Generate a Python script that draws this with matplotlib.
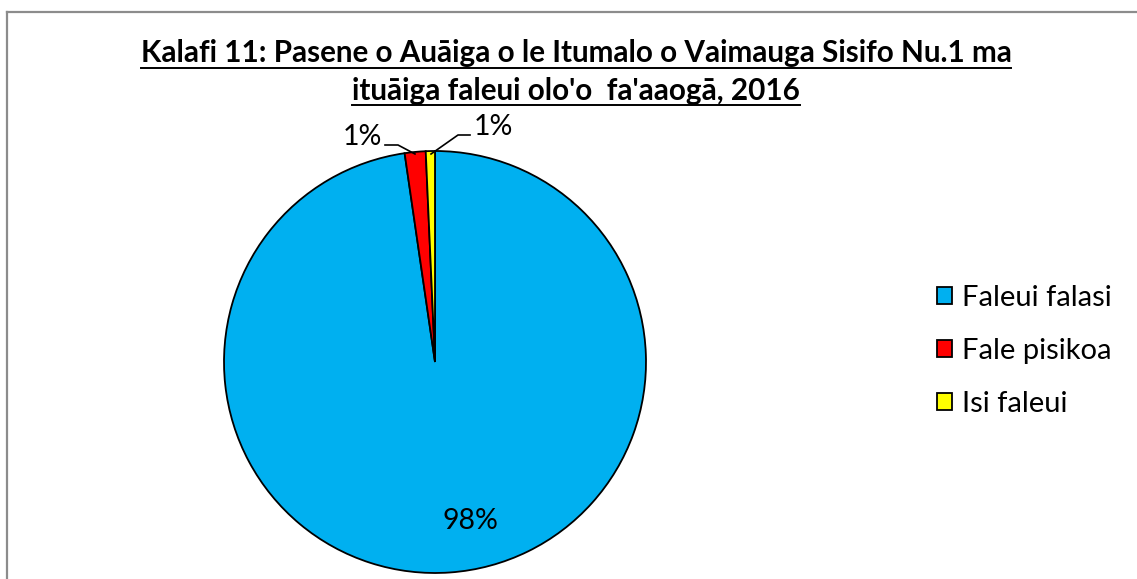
import matplotlib
matplotlib.use("Agg")
import matplotlib.pyplot as plt
from matplotlib.lines import Line2D

categories = ["Faleui falasi", "Fale pisikoa", "Isi faleui"]
values = [97.7, 1.6, 0.7]
pct_labels = ["98%", "1%", "1%"]
colors = ["#00B0F0", "#FF0000", "#FFFF00"]
title_lines = ["Kalafi 11: Pasene o Auāiga o le Itumalo o Vaimauga Sisifo Nu.1 ma",
               "ituāiga faleui olo'o  fa'aaogā, 2016"]

W, H = 1137, 579
fig = plt.figure(figsize=(W / 100, H / 100), dpi=100)
FONT = "Lato"

def fx(px):
    return px / W

def fy(py):
    return 1 - py / H

# border (top and left visible)
fig.add_artist(Line2D([fx(6.5), fx(6.5)], [fy(11.5), fy(600)], color="#8c8c8c", lw=1.6,
                      transform=fig.transFigure))
fig.add_artist(Line2D([fx(6.5), fx(1150)], [fy(11.5), fy(11.5)], color="#8c8c8c", lw=1.6,
                      transform=fig.transFigure))

cx, cy, r = 435, 362, 211
ax = fig.add_axes([fx(cx - r), fy(cy + r), 2 * r / W, 2 * r / H])
wedges, _ = ax.pie(values, colors=colors, startangle=90, counterclock=False,
                   wedgeprops=dict(edgecolor="black", linewidth=1.3))
ax.set_xlim(-1, 1)
ax.set_ylim(-1, 1)
ax.set_aspect("auto")
ax.axis("off")

def dpt(px, py):
    return ((px - cx) / r, (cy - py) / r)

# 98% label
ax.text(*dpt(470, 521), pct_labels[0], ha="center", va="center", fontsize=20.5, family=FONT)
# red label + leader
ax.text(*dpt(362, 137), pct_labels[1], ha="center", va="center", fontsize=20.5, family=FONT)
xs, ys = zip(dpt(385, 145), dpt(398, 145), dpt(415, 154))
ax.add_line(Line2D(xs, ys, color="black", lw=1.2, clip_on=False))
# yellow label + leader
ax.text(*dpt(493, 127), pct_labels[2], ha="center", va="center", fontsize=20.5, family=FONT)
xs, ys = zip(dpt(470, 135), dpt(458, 135), dpt(431, 154))
ax.add_line(Line2D(xs, ys, color="black", lw=1.2, clip_on=False))

# legend
leg = fig.legend(wedges, categories, loc="center left", bbox_to_anchor=(fx(937), fy(351)),
                 frameon=False, handlelength=0.5, handleheight=0.5,
                 handletextpad=0.35, labelspacing=0.93, borderpad=0, borderaxespad=0,
                 prop=dict(family=FONT, size=21))

# title with underline
tys = [53, 91]
texts = []
for line, ty in zip(title_lines, tys):
    t = fig.text(fx(576), fy(ty), line, ha="center", va="center", fontsize=21.3,
                 fontweight="bold", family=FONT)
    texts.append(t)
fig.canvas.draw()
renderer = fig.canvas.get_renderer()
for t, uy in zip(texts, [68, 105]):
    bb = t.get_window_extent(renderer)
    fig.add_artist(Line2D([bb.x0 / W, bb.x1 / W], [fy(uy), fy(uy)], color="black", lw=1.4,
                          transform=fig.transFigure))

fig.savefig("out.png", dpi=100, facecolor="white")
